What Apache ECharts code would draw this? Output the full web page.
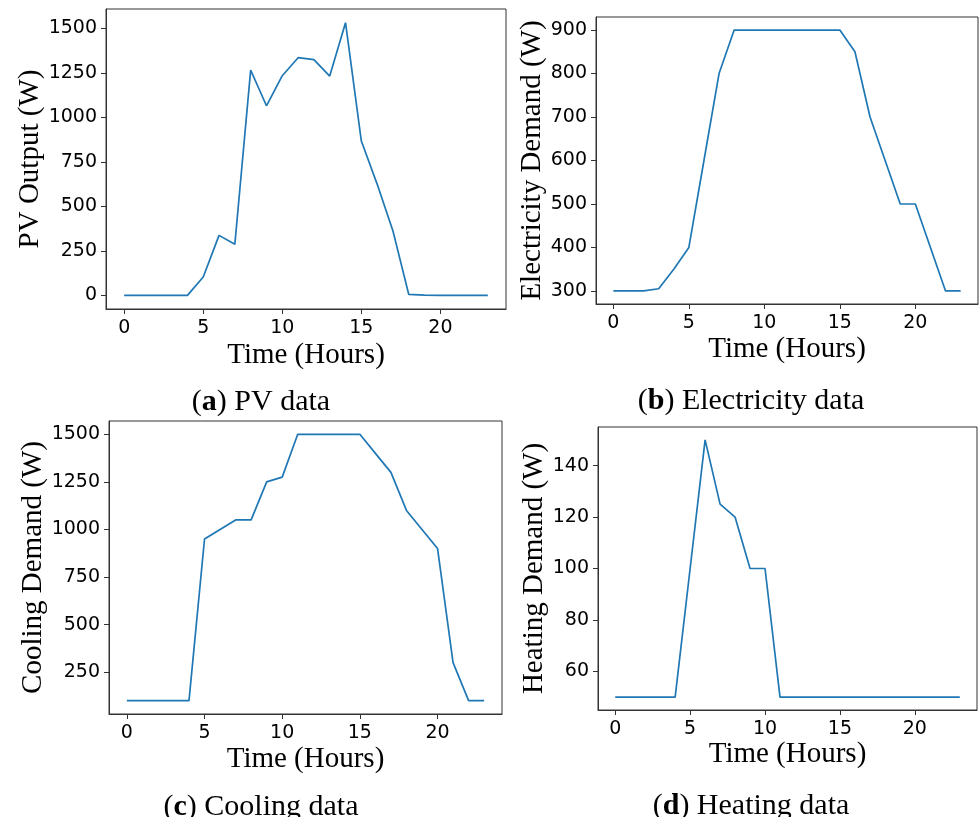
<!DOCTYPE html>
<html>
<head>
<meta charset="utf-8">
<script src="https://cdn.jsdelivr.net/npm/echarts@6/dist/echarts.min.js"></script>
<style>html,body{margin:0;padding:0;background:#fff}#c{width:979px;height:817px}</style>
</head>
<body>
<div id="c"></div>
<script>
// Hours of the day
const hours = [0,1,2,3,4,5,6,7,8,9,10,11,12,13,14,15,16,17,18,19,20,21,22,23];
// Series values (W)
const pvOutput    = [0,0,0,0,0,103,337,287,1265,1065,1234,1335,1324,1232,1532,867,625,362,5,1,0,0,0,0];
const electricity = [300,300,300,305,350,400,600,800,900,900,900,900,900,900,900,900,850,700,600,500,500,400,300,300];
const cooling     = [100,100,100,100,100,950,1000,1050,1050,1250,1275,1500,1500,1500,1500,1500,1400,1300,1100,1000,900,300,100,100];
const heating     = [50,50,50,50,50,100,150,125,120,100,100,50,50,50,50,50,50,50,50,50,50,50,50,50];
// Tick labels
const xTicks = [0,5,10,15,20];
const pvTicks = [0,250,500,750,1000,1250,1500];
const elTicks = [300,400,500,600,700,800,900];
const coTicks = [250,500,750,1000,1250,1500];
const heTicks = [60,80,100,120,140];
// Text
const yTitles = ['PV Output (W)','Electricity Demand (W)','Cooling Demand (W)','Heating Demand (W)'];
const xTitle = 'Time (Hours)';
const capLetters = ['a','b','c','d'];
const capTexts = ['PV data','Electricity data','Cooling data','Heating data'];

const chart = echarts.init(document.getElementById('c'), null, {renderer:'canvas'});

const grids = [
  {left:106, top:9,   width:400, height:300},
  {left:596, top:17,  width:382, height:287},
  {left:109, top:421, width:393, height:293},
  {left:598, top:427, width:379, height:283}
];
const yRanges = [[-76.6,1608.6],[270,930],[30,1570],[45,155]];
const yTickSets = [pvTicks, elTicks, coTicks, heTicks];
const yNameGaps = [60,49,58,48];
const xNameGaps = [32,31,31,30];
const seriesData = [pvOutput, electricity, cooling, heating];
const capPos = [[256,382],[746,381],[256,787],[746,786]];

const axisColor = '#333';
const plain = v => String(v);
const tickFont = {fontFamily:'DejaVu Sans', fontSize:19, color:'#000', formatter:plain};
const titleFont = {fontFamily:'Liberation Serif', fontSize:29, color:'#000'};

const option = {
  animation:false,
  backgroundColor:'#fff',
  grid: grids.map(g => Object.assign({show:true, borderColor:axisColor, borderWidth:1, containLabel:false}, g)),
  xAxis: grids.map((g,i) => ({
    type:'value', gridIndex:i, min:-1.15, max:24.15,
    name:xTitle, nameLocation:'middle', nameGap:xNameGaps[i], nameTextStyle:titleFont,
    axisLine:{show:true, onZero:false, lineStyle:{color:axisColor, width:1}},
    axisTick:{show:true, length:5, customValues:xTicks, lineStyle:{color:axisColor}},
    axisLabel:Object.assign({show:true, margin:10, customValues:xTicks}, tickFont),
    splitLine:{show:false}
  })),
  yAxis: grids.map((g,i) => ({
    type:'value', gridIndex:i, min:yRanges[i][0], max:yRanges[i][1],
    name:yTitles[i], nameLocation:'middle', nameGap:yNameGaps[i], nameTextStyle:titleFont,
    axisLine:{show:true, onZero:false, lineStyle:{color:axisColor, width:1}},
    axisTick:{show:true, length:5, customValues:yTickSets[i], lineStyle:{color:axisColor}},
    axisLabel:Object.assign({show:true, margin:9, customValues:yTickSets[i]}, tickFont),
    splitLine:{show:false}
  })),
  series: seriesData.map((d,i) => ({
    type:'line', xAxisIndex:i, yAxisIndex:i,
    data: hours.map((h,k) => [h, d[k]]),
    showSymbol:false, symbol:'none',
    lineStyle:{color:'#1f77b4', width:1.7},
    itemStyle:{color:'#1f77b4'}
  })),
  title: capLetters.map((l,i) => ({
    text:'{n|(}{b|' + l + '}{n|) ' + capTexts[i] + '}',
    left:capPos[i][0], top:capPos[i][1], textAlign:'center',
    textStyle:{
      fontWeight:'normal', fontFamily:'Liberation Serif', fontSize:30, color:'#000',
      rich:{
        n:{fontFamily:'Liberation Serif', fontSize:30, fontWeight:'normal', color:'#000'},
        b:{fontFamily:'Liberation Serif', fontSize:30, fontWeight:'bold', color:'#000'}
      }
    }
  }))
};
chart.setOption(option);
</script>
</body>
</html>
